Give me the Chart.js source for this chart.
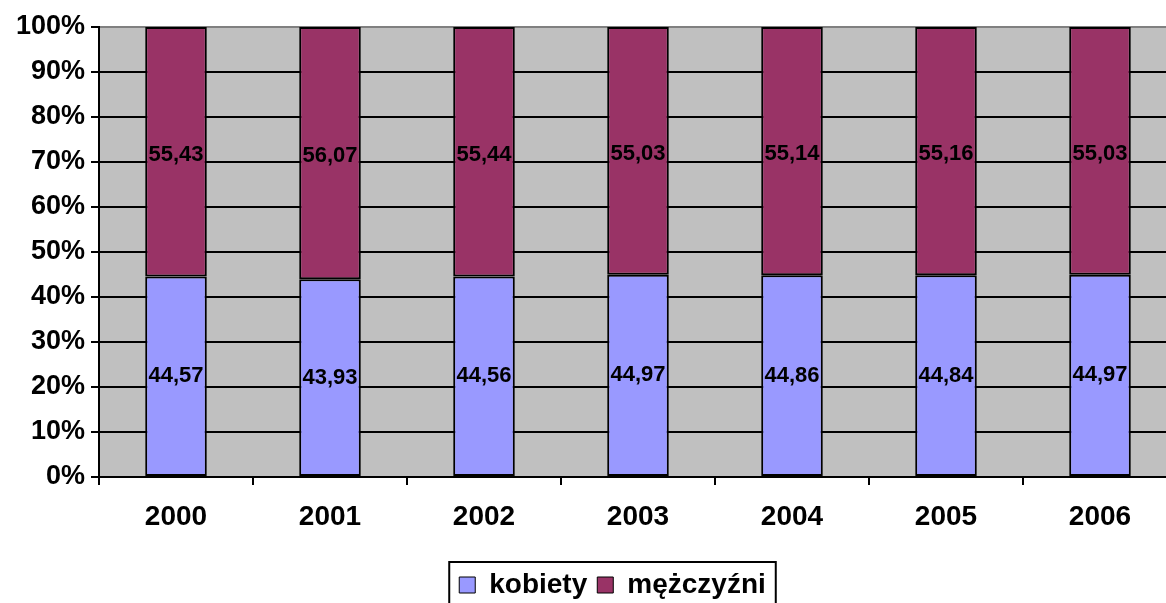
<!DOCTYPE html>
<html>
<head>
<meta charset="utf-8">
<script src="https://cdn.jsdelivr.net/npm/chart.js@4/dist/chart.umd.min.js"></script>
<style>
html,body{margin:0;padding:0;background:#fff;overflow:hidden;width:1166px;height:603px;}
#wrap{position:relative;width:1177px;height:609px;}
</style>
</head>
<body>
<div id="wrap"><canvas id="c" width="1177" height="609"></canvas></div>
<script>
const categories = ["2000","2001","2002","2003","2004","2005","2006"];
const kobiety = [44.57, 43.93, 44.56, 44.97, 44.86, 44.84, 44.97];
const mezczyzni = [55.43, 56.07, 55.44, 55.03, 55.14, 55.16, 55.03];
const seriesNames = ["kobiety", "mężczyźni"];
const FONT = "'Liberation Sans', Arial, sans-serif";

const bgPlugin = {
  id: 'plotBg',
  beforeDraw(chart) {
    const a = chart.chartArea, ctx = chart.ctx;
    ctx.save();
    ctx.fillStyle = '#C0C0C0';
    ctx.fillRect(a.left, a.top, a.right - a.left, a.bottom - a.top);
    ctx.restore();
  }
};

const labelPlugin = {
  id: 'segLabels',
  afterDatasetsDraw(chart) {
    const ctx = chart.ctx;
    ctx.save();
    ctx.font = "bold 22px " + FONT;
    ctx.fillStyle = '#000';
    ctx.textAlign = 'center';
    ctx.textBaseline = 'middle';
    chart.data.datasets.forEach((ds, i) => {
      const meta = chart.getDatasetMeta(i);
      meta.data.forEach((el, j) => {
        const p = el.getProps(['x', 'y', 'base'], true);
        const txt = ds.data[j].toFixed(2).replace('.', ',');
        ctx.fillText(txt, p.x, (p.y + p.base) / 2 + (i === 1 ? 3 : 0));
      });
    });
    ctx.restore();
  }
};

const legendBox = {
  id: 'legendBox',
  afterUpdate(chart) {
    const lg = chart.legend;
    if (!lg) return;
    lg.left += 24;
    lg.right += 24;
    lg.adjustHitBoxes();
  },
  afterDraw(chart) {
    const lg = chart.legend;
    if (!lg || !lg.legendHitBoxes || !lg.legendHitBoxes.length) return;
    const hb = lg.legendHitBoxes;
    const first = hb[0], last = hb[hb.length - 1];
    const ctx = chart.ctx;
    ctx.save();
    ctx.strokeStyle = '#000';
    ctx.lineWidth = 2;
    const x0 = first.left - 10, x1 = last.left + last.width + 10;
    const y0 = lg.top + 1;
    ctx.strokeRect(x0, y0, x1 - x0, 60);
    ctx.restore();
  }
};

new Chart(document.getElementById('c'), {
  type: 'bar',
  data: {
    labels: categories,
    datasets: [
      { label: seriesNames[0], data: kobiety, backgroundColor: '#9999FF', borderColor: '#000', borderWidth: 2, borderSkipped: false, barPercentage: 0.4, categoryPercentage: 1 },
      { label: seriesNames[1], data: mezczyzni, backgroundColor: '#993366', borderColor: '#000', borderWidth: 2, borderSkipped: false, barPercentage: 0.4, categoryPercentage: 1 }
    ]
  },
  options: {
    responsive: false,
    animation: false,
    devicePixelRatio: 1,
    layout: { padding: { top: 27, left: 0, right: 0, bottom: 0 } },
    plugins: {
      tooltip: { enabled: false },
      legend: {
        position: 'bottom',
        labels: {
          color: '#000',
          font: { family: FONT, size: 28, weight: 'bold' },
          boxWidth: 16, boxHeight: 16, padding: 10,
          generateLabels(chart) {
            const items = Chart.defaults.plugins.legend.labels.generateLabels(chart);
            items.forEach(it => { it.lineWidth = 1; it.strokeStyle = '#000'; });
            return items;
          }
        }
      }
    },
    scales: {
      x: {
        stacked: true,
        offset: true,
        afterFit(scale) { scale.height = 84; },
        grid: { display: true, drawOnChartArea: false, drawTicks: true, tickLength: 8, color: '#000', lineWidth: 2 },
        border: { display: true, color: '#000', width: 2 },
        ticks: { color: '#000', padding: 15, font: { family: FONT, size: 28, weight: 'bold' }, maxRotation: 0 }
      },
      y: {
        stacked: true,
        min: 0, max: 100,
        afterFit(scale) { scale.width = 99; },
        grid: {
          color: (c) => (c.tick && c.tick.value === 100) ? '#808080' : '#000',
          tickColor: '#000',
          lineWidth: 2,
          tickLength: 8
        },
        border: { display: true, color: '#000', width: 2 },
        ticks: {
          stepSize: 10,
          color: '#000',
          padding: 6,
          font: { family: FONT, size: 27, weight: 'bold' },
          callback: (v) => v + '%'
        }
      }
    }
  },
  plugins: [bgPlugin, labelPlugin, legendBox]
});
</script>
</body>
</html>
